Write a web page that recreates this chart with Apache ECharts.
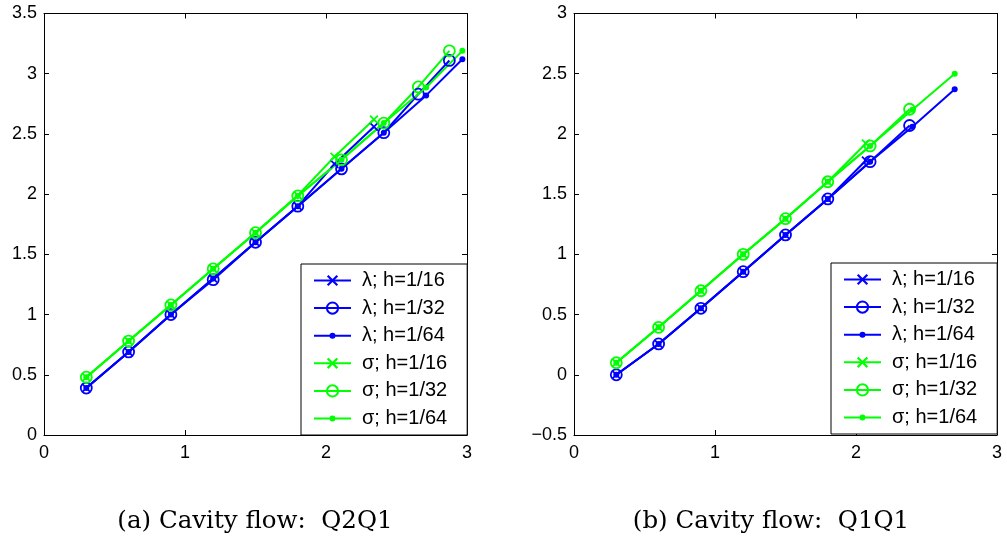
<!DOCTYPE html>
<html><head><meta charset="utf-8">
<script src="https://cdn.jsdelivr.net/npm/echarts@6/dist/echarts.min.js"></script>
<style>html,body{margin:0;padding:0;background:#fff}#c{width:1007px;height:541px}</style>
</head><body><div id="c"></div>
<script>
// ---------- data ----------
const seriesNames = ['λ; h=1/16', 'λ; h=1/32', 'λ; h=1/64', 'σ; h=1/16', 'σ; h=1/32', 'σ; h=1/64'];

// Plot (a): Cavity flow Q2Q1
const a_x16 = [0.3, 0.6, 0.9, 1.2, 1.5, 1.8, 2.06, 2.34];
const a_x32 = [0.3, 0.6, 0.9, 1.2, 1.5, 1.8, 2.11, 2.41, 2.655, 2.875];
const a_x64 = [0.3, 0.6, 0.9, 1.2, 1.5, 1.8, 2.11, 2.41, 2.71, 2.967];
const a_lam16 = [0.39, 0.69, 1.00, 1.30, 1.60, 1.90, 2.25, 2.56];
const a_lam32 = [0.39, 0.69, 1.00, 1.29, 1.60, 1.90, 2.21, 2.51, 2.83, 3.11];
const a_lam64 = [0.39, 0.69, 1.00, 1.30, 1.60, 1.90, 2.21, 2.51, 2.82, 3.12];
const a_sig16 = [0.48, 0.78, 1.08, 1.38, 1.68, 1.99, 2.31, 2.62];
const a_sig32 = [0.48, 0.78, 1.08, 1.38, 1.68, 1.985, 2.285, 2.59, 2.89, 3.19];
const a_sig64 = [0.48, 0.78, 1.08, 1.38, 1.68, 1.985, 2.285, 2.59, 2.885, 3.19];

// Plot (b): Cavity flow Q1Q1
const b_x16 = [0.3, 0.6, 0.9, 1.2, 1.5, 1.8, 2.07];
const b_x32 = [0.3, 0.6, 0.9, 1.2, 1.5, 1.8, 2.1, 2.38];
const b_x64 = [0.3, 0.6, 0.9, 1.2, 1.5, 1.8, 2.1, 2.4, 2.7];
const b_lam16 = [0.0, 0.256, 0.552, 0.856, 1.161, 1.46, 1.78];
const b_lam32 = [0.0, 0.256, 0.552, 0.856, 1.161, 1.46, 1.77, 2.07];
const b_lam64 = [0.0, 0.256, 0.552, 0.856, 1.161, 1.46, 1.77, 2.06, 2.37];
const b_sig16 = [0.10, 0.394, 0.698, 1.0, 1.296, 1.603, 1.92];
const b_sig32 = [0.10, 0.394, 0.698, 1.0, 1.296, 1.603, 1.90, 2.205];
const b_sig64 = [0.10, 0.394, 0.698, 1.0, 1.296, 1.603, 1.90, 2.20, 2.50];

const xTicks = [0, 1, 2, 3];
const yTicksA = [0, 0.5, 1, 1.5, 2, 2.5, 3, 3.5];
const yTicksB = [-0.5, 0, 0.5, 1, 1.5, 2, 2.5, 3];
const captions = ['(a) Cavity flow:  Q2Q1', '(b) Cavity flow:  Q1Q1'];

// ---------- styling ----------
const BLUE = '#0000ff', GREEN = '#00ff00';
const FONT = '"Liberation Sans", Arial, sans-serif';
const CROSS = 'path://M0,1.4L1.4,0L5,3.6L8.6,0L10,1.4L6.4,5L10,8.6L8.6,10L5,6.4L1.4,10L0,8.6L3.6,5Z';
const DOT_LEGEND = 'path://M0,2L37,2L37,4L0,4Z M15.5,3A3,3 0 1,1 21.5,3A3,3 0 1,1 15.5,3Z';

function zip(xs, ys) { return xs.map((x, i) => [x, ys[i]]); }

function mkSeries(name, xs, ys, color, kind, gi) {
  const s = {
    name: name, type: 'line', xAxisIndex: gi * 2, yAxisIndex: gi * 2,
    data: zip(xs, ys), lineStyle: { color: color, width: 2 },
    emphasis: { disabled: true }, animation: false, clip: false, z: 2
  };
  if (kind === 'x') { s.symbol = CROSS; s.symbolSize = 9; s.itemStyle = { color: color }; }
  else if (kind === 'o') { s.symbol = 'circle'; s.symbolSize = 11; s.itemStyle = { color: 'rgba(0,0,0,0)', borderColor: color, borderWidth: 1.8 }; }
  else { s.symbol = 'circle'; s.symbolSize = 6; s.itemStyle = { color: color }; }
  return s;
}

function axesFor(gi, yT) {
  const lbl = { color: '#000', fontSize: 18, fontFamily: FONT };
  const line = { show: true, onZero: false, lineStyle: { color: '#000', width: 1 } };
  const tick = { show: true, inside: true, length: 5, lineStyle: { color: '#000' } };
  const xmin = xTicks[0], xmax = xTicks[xTicks.length - 1];
  const ymin = yT[0], ymax = yT[yT.length - 1];
  return {
    x: [
      { type: 'value', gridIndex: gi, min: xmin, max: xmax, interval: xTicks[1] - xTicks[0], position: 'bottom',
        axisLine: line, axisTick: tick, splitLine: { show: false }, axisLabel: Object.assign({ margin: 9 }, lbl) },
      { type: 'value', gridIndex: gi, min: xmin, max: xmax, interval: xTicks[1] - xTicks[0], position: 'top',
        axisLine: line, axisTick: tick, splitLine: { show: false }, axisLabel: { show: false } }
    ],
    y: [
      { type: 'value', gridIndex: gi, min: ymin, max: ymax, interval: yT[1] - yT[0], position: 'left',
        axisLine: line, axisTick: tick, splitLine: { show: false },
        axisLabel: Object.assign({ margin: 7, formatter: v => String(v).replace('-', '\u2212') }, lbl) },
      { type: 'value', gridIndex: gi, min: ymin, max: ymax, interval: yT[1] - yT[0], position: 'right',
        axisLine: line, axisTick: tick, splitLine: { show: false }, axisLabel: { show: false } }
    ]
  };
}

const axA = axesFor(0, yTicksA), axB = axesFor(1, yTicksB);
const kinds = ['x', 'o', '.', 'x', 'o', '.'];

const dataA = [[a_x16, a_lam16], [a_x32, a_lam32], [a_x64, a_lam64], [a_x16, a_sig16], [a_x32, a_sig32], [a_x64, a_sig64]];
const dataB = [[b_x16, b_lam16], [b_x32, b_lam32], [b_x64, b_lam64], [b_x16, b_sig16], [b_x32, b_sig32], [b_x64, b_sig64]];

const series = [];
dataA.forEach((d, i) => series.push(mkSeries(seriesNames[i], d[0], d[1], i < 3 ? BLUE : GREEN, kinds[i], 0)));
dataB.forEach((d, i) => series.push(mkSeries(seriesNames[i], d[0], d[1], i < 3 ? BLUE : GREEN, kinds[i], 1)));

const legendData = seriesNames.map((n, i) => kinds[i] === '.' ? { name: n, icon: DOT_LEGEND } : { name: n });

function legendAt(left, top) {
  return {
    orient: 'vertical', left: left, top: top, data: legendData, selectedMode: false,
    itemWidth: 37, itemHeight: 14, itemGap: 7.6, padding: [6.5, 20, 6.5, 12],
    borderColor: '#000', borderWidth: 1, backgroundColor: '#fff', borderRadius: 0,
    textStyle: { color: '#000', fontSize: 20, fontFamily: FONT, padding: [0, 0, 0, 6] }, z: 10
  };
}

const option = {
  animation: false,
  backgroundColor: '#fff',
  grid: [
    { left: 44, top: 13.5, width: 423, height: 421.5 },
    { left: 574, top: 13.5, width: 423, height: 421.5 }
  ],
  xAxis: axA.x.concat(axB.x.map(a => Object.assign(a, { gridIndex: 1 }))),
  yAxis: axA.y.concat(axB.y.map(a => Object.assign(a, { gridIndex: 1 }))),
  legend: [legendAt(301, 264), legendAt(831, 263)],
  series: series,
  graphic: [
    { type: 'text', x: 255, y: 522, style: { text: captions[0], align: 'center', verticalAlign: 'middle', fontSize: 24.5, fontFamily: '"DejaVu Serif", "Liberation Serif", serif', fill: '#000' } },
    { type: 'text', x: 771, y: 522, style: { text: captions[1], align: 'center', verticalAlign: 'middle', fontSize: 24.5, fontFamily: '"DejaVu Serif", "Liberation Serif", serif', fill: '#000' } }
  ]
};
series.forEach((s, i) => { const gi = i < 6 ? 0 : 1; s.xAxisIndex = gi * 2; s.yAxisIndex = gi * 2; });

const chart = echarts.init(document.getElementById('c'), null, { renderer: 'canvas' });
chart.setOption(option);
</script>
</body></html>
